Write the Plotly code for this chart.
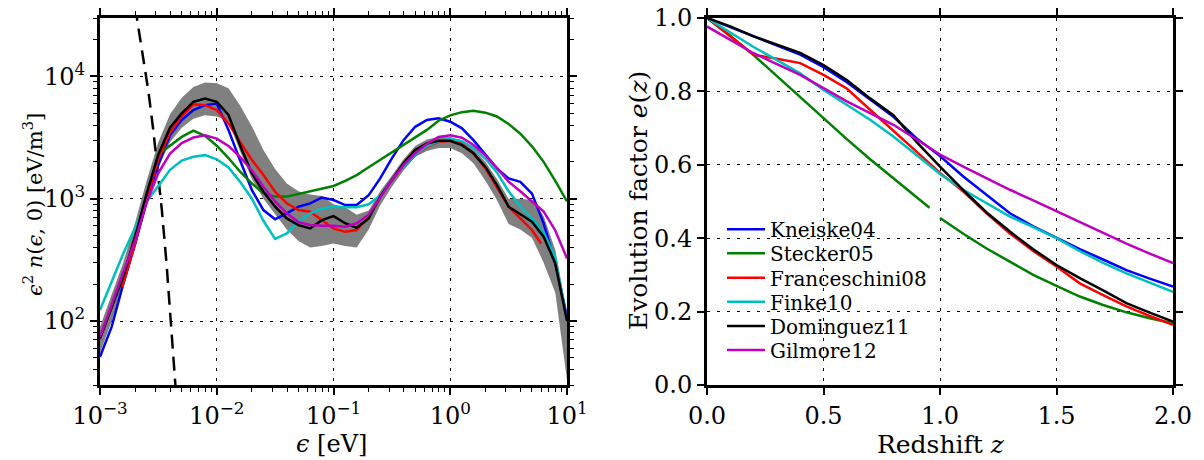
import plotly.graph_objects as go

# ---------------- Left panel: EBL spectral energy density ----------------
eps_grid = [0.001, 0.00126, 0.00158, 0.002, 0.00251, 0.00316, 0.00398, 0.00501, 0.00631, 0.00794,
            0.01, 0.0126, 0.0158, 0.02, 0.0251, 0.0316, 0.0398, 0.0501, 0.0631, 0.0794,
            0.1, 0.126, 0.158, 0.2, 0.251, 0.316, 0.398, 0.501, 0.631, 0.794,
            1.0, 1.26, 1.58, 2.0, 2.51, 3.16, 3.98, 5.01, 6.31, 7.94, 10.0]

sed_kneiske04 = [51, 90, 200, 430, 950, 1900, 3300, 4400, 5300, 5820, 6000, 3640, 2070, 1175, 807, 680,
                 760, 860, 916, 1020, 975, 887, 887, 1070, 1465, 2140, 3010, 3870, 4400, 4540, 4260,
                 3760, 3010, 2275, 1770, 1465, 1375, 1100, 628, 296, 108]
sed_stecker05 = [None, None, 230, 490, 1050, 2300, 2730, 3200, 3600, 3270, 2710, 2150, 1670, 1330, 1110,
                 1040, 1040, 1090, 1140, 1200, 1270, 1400, 1560, 1810, 2080, 2400, 2760, 3200, 3650, 4340,
                 4800, 5100, 5240, 5050, 4700, 4080, 3400, 2680, 2000, 1400, 950]
eps_franceschini08 = [0.00155, 0.002, 0.00251, 0.00316, 0.00398, 0.00501, 0.00631, 0.00794, 0.01, 0.0126,
                      0.0158, 0.02, 0.0251, 0.0316, 0.0398, 0.0501, 0.0631, 0.0794, 0.1, 0.126, 0.158,
                      0.2, 0.251, 0.316, 0.398, 0.501, 0.631, 0.794, 1.0, 1.26, 1.58, 2.0, 2.51, 3.16,
                      3.98, 5.01, 6.0]
sed_franceschini08 = [190, 430, 1000, 2100, 3500, 4700, 5900, 5820, 5300, 4130, 2920, 2070, 1560, 1140,
                      916, 807, 782, 668, 571, 536, 555, 711, 1040, 1420, 1820, 2275, 2660, 2920, 2970,
                      2800, 2350, 1770, 1250, 860, 690, 555, 430]
sed_finke10 = [123, 214, 355, 580, 950, 1270, 1720, 2050, 2200, 2270, 2100, 1800, 1380, 1000, 660, 470,
               520, 650, 760, 830, 860, 850, 850, 900, 1060, 1430, 1820, 2300, 2700, 2950, 3100, 2950,
               2600, 2120, 1640, 1150, 870, 690, 530, 330, 100]
sed_dominguez11 = [72, 128, 230, 490, 1100, 2300, 3800, 4980, 6200, 6600, 6200, 4830, 2750, 1610, 1140,
                   860, 690, 608, 571, 668, 720, 630, 578, 690, 1040, 1420, 1945, 2500, 2830, 2970, 2970,
                   2740, 2350, 1820, 1290, 860, 748, 648, 489, 296, 100]
sed_gilmore12 = [74, 138, 250, 457, 930, 1620, 2340, 2850, 3160, 3300, 3100, 2700, 2200, 1700, 1250, 950,
                 760, 645, 610, 600, 600, 590, 630, 740, 1020, 1420, 1880, 2350, 2800, 3200, 3300, 3150,
                 2750, 2260, 1780, 1380, 1150, 950, 785, 550, 325]
band_upper = [90, 165, 300, 640, 1400, 2900, 4900, 6700, 8200, 8900, 8800, 8000, 5800, 3900, 2500, 1750,
              1330, 1150, 1080, 1050, 900, 850, 740, 800, 1150, 1550, 2100, 2700, 3050, 3200, 3200, 2950,
              2550, 2000, 1450, 1000, 1000, 975, 720, 380, 115]
band_lower = [55, 100, 190, 400, 880, 1800, 2900, 3800, 4500, 4800, 4700, 4300, 2450, 1450, 1000, 740,
              560, 450, 400, 410, 430, 410, 400, 560, 880, 1250, 1700, 2200, 2450, 2600, 2600, 2350,
              1950, 1400, 975, 620, 560, 480, 300, 170, 33]

eps_cmb = [0.0020, 0.00235, 0.00260, 0.00286, 0.00316, 0.00339, 0.00372, 0.00404, 0.00440, 0.00460]
sed_cmb = [37000, 13500, 7500, 3640, 1570, 800, 290, 100, 31, 18]

# ---------------- Right panel: evolution factor ----------------
z_grid = [0.0, 0.1, 0.2, 0.3, 0.4, 0.5, 0.6, 0.7, 0.8, 0.9, 1.0,
          1.1, 1.2, 1.3, 1.4, 1.5, 1.6, 1.7, 1.8, 1.9, 2.0]
e_kneiske04 = [1.0, 0.975, 0.948, 0.925, 0.900, 0.866, 0.825, 0.778, 0.731, 0.672, 0.624,
               0.568, 0.518, 0.468, 0.432, 0.400, 0.370, 0.342, 0.313, 0.290, 0.268]
z_stecker05 = [0.0, 0.1, 0.2, 0.3, 0.4, 0.5, 0.6, 0.7, 0.8, 0.9, 0.955, 0.975,
               1.0, 1.1, 1.2, 1.3, 1.4, 1.5, 1.6, 1.7, 1.8, 1.9, 2.0]
e_stecker05 = [1.0, 0.952, 0.899, 0.842, 0.784, 0.726, 0.670, 0.615, 0.563, 0.511, 0.483, None,
               0.455, 0.412, 0.372, 0.335, 0.300, 0.270, 0.241, 0.218, 0.198, 0.182, 0.168]
e_franceschini08 = [1.0, 0.950, 0.900, 0.889, 0.877, 0.845, 0.808, 0.750, 0.692, 0.635, 0.578,
                    0.527, 0.468, 0.413, 0.365, 0.323, 0.277, 0.245, 0.214, 0.188, 0.164]
e_finke10 = [1.0, 0.960, 0.921, 0.885, 0.849, 0.804, 0.763, 0.723, 0.677, 0.625, 0.575,
             0.532, 0.495, 0.459, 0.430, 0.400, 0.365, 0.333, 0.304, 0.278, 0.254]
e_dominguez11 = [1.0, 0.977, 0.950, 0.928, 0.905, 0.872, 0.831, 0.781, 0.735, 0.662, 0.595,
                 0.531, 0.470, 0.418, 0.370, 0.327, 0.291, 0.258, 0.223, 0.197, 0.173]
e_gilmore12 = [0.977, 0.940, 0.904, 0.874, 0.845, 0.809, 0.773, 0.741, 0.709, 0.669, 0.628,
               0.595, 0.563, 0.532, 0.503, 0.473, 0.443, 0.413, 0.385, 0.358, 0.332]

model_names = ["Kneiske04", "Stecker05", "Franceschini08", "Finke10", "Dominguez11", "Gilmore12"]
model_colors = ["#0000ff", "#008000", "#ff0000", "#00bfbf", "#000000", "#bf00bf"]

x_tickvals = [0.001, 0.01, 0.1, 1, 10]
x_ticktext = ["10<sup>−3</sup>", "10<sup>−2</sup>", "10<sup>−1</sup>", "10<sup>0</sup>", "10<sup>1</sup>"]
y_tickvals = [100, 1000, 10000]
y_ticktext = ["10<sup>2</sup>", "10<sup>3</sup>", "10<sup>4</sup>"]
x_minor = [m * 10 ** k for k in (-3, -2, -1, 0) for m in range(2, 10)]
y_minor = [m * 10 ** k for k in (1, 2, 3, 4) for m in range(2, 10)]

FONT = "DejaVu Serif"
W, H = 1204, 460

fig = go.Figure()

fig.add_trace(go.Scatter(x=eps_grid, y=band_lower, mode="lines", line=dict(width=0, color="#808080"),
                         showlegend=False, hoverinfo="skip", xaxis="x", yaxis="y"))
fig.add_trace(go.Scatter(x=eps_grid, y=band_upper, mode="lines", line=dict(width=0, color="#808080"),
                         fill="tonexty", fillcolor="#808080", showlegend=False, hoverinfo="skip",
                         xaxis="x", yaxis="y"))
fig.add_trace(go.Scatter(x=eps_cmb, y=sed_cmb, mode="lines",
                         line=dict(color="black", width=2.5, dash="14px,8px"),
                         showlegend=False, xaxis="x", yaxis="y"))

left_x = [eps_grid, eps_grid, eps_franceschini08, eps_grid, eps_grid, eps_grid]
left_y = [sed_kneiske04, sed_stecker05, sed_franceschini08, sed_finke10, sed_dominguez11, sed_gilmore12]
for name, col, xs, ys in zip(model_names, model_colors, left_x, left_y):
    fig.add_trace(go.Scatter(x=xs, y=ys, mode="lines", name=name, line=dict(color=col, width=2.5),
                             showlegend=False, xaxis="x", yaxis="y"))

right_x = [z_grid, z_stecker05, z_grid, z_grid, z_grid, z_grid]
right_y = [e_kneiske04, e_stecker05, e_franceschini08, e_finke10, e_dominguez11, e_gilmore12]
legend_ids = ["legend", "legend2", "legend3", "legend4", "legend5", "legend6"]
for name, col, xs, ys, lid in zip(model_names, model_colors, right_x, right_y, legend_ids):
    fig.add_trace(go.Scatter(x=xs, y=ys, mode="lines", name=name, line=dict(color=col, width=2.5),
                             showlegend=True, legend=lid, xaxis="x2", yaxis="y2"))

tickfont = dict(family=FONT, size=24, color="black")
common = dict(showline=True, linecolor="black", linewidth=3, mirror="ticks", ticks="outside",
              ticklen=7, tickwidth=1.5, tickcolor="black", showgrid=True, gridcolor="black",
              gridwidth=1, griddash="3px,7px", zeroline=False, automargin=False, tickfont=tickfont)

y_dom = [1 - 385 / H, 1 - 18 / H]
layout = dict(
    width=W, height=H, margin=dict(l=0, r=0, t=0, b=0),
    paper_bgcolor="white", plot_bgcolor="white",
    font=dict(family=FONT, color="black"),
    xaxis=dict(type="log", range=[-3, 1], domain=[100 / W, 567 / W], anchor="y",
               tickmode="array", tickvals=x_tickvals, ticktext=x_ticktext,
               minor=dict(tickmode="array", tickvals=x_minor, ticks="outside", ticklen=4,
                          tickwidth=1, tickcolor="black", showgrid=False), **common),
    yaxis=dict(type="log", range=[1.4771, 4.4771], domain=y_dom, anchor="x",
               tickmode="array", tickvals=y_tickvals, ticktext=y_ticktext,
               minor=dict(tickmode="array", tickvals=y_minor, ticks="outside", ticklen=4,
                          tickwidth=1, tickcolor="black", showgrid=False), **common),
    xaxis2=dict(range=[0, 2], domain=[707 / W, 1173 / W], anchor="y2", tickmode="linear",
                tick0=0, dtick=0.5, tickformat=".1f", **common),
    yaxis2=dict(range=[0, 1], domain=y_dom, anchor="x2", tickmode="linear", tick0=0, dtick=0.2,
                tickformat=".1f", **common),
)

legend_rows = [229.3, 253.3, 277.7, 301.7, 326.0, 350.0]
for lid, yc in zip(legend_ids, legend_rows):
    layout[lid] = dict(x=722 / W, xanchor="left", y=1 - yc / H, yanchor="middle",
                       bgcolor="rgba(0,0,0,0)", borderwidth=0, itemwidth=38,
                       font=dict(family=FONT, size=20, color="black"))

titlefont = dict(family=FONT, size=25, color="black")
layout["annotations"] = [
    dict(text="<i>ϵ</i><sup>2</sup> <i>n</i>(<i>ϵ</i>, 0) [eV/m<sup>3</sup>]", x=33 / W, y=1 - 205 / H,
         xref="paper", yref="paper", textangle=-90, showarrow=False,
         font=dict(family=FONT, size=21, color="black"),
         xanchor="center", yanchor="middle"),
    dict(text="<i>ϵ</i> [eV]", x=332 / W, y=1 - 444 / H, xref="paper", yref="paper",
         showarrow=False, font=dict(family=FONT, size=24, color="black"),
         xanchor="center", yanchor="middle"),
    dict(text="Evolution factor <i>e</i>(<i>z</i>)", x=638 / W, y=1 - 201 / H, xref="paper",
         yref="paper", textangle=-90, showarrow=False, font=titlefont, xanchor="center",
         yanchor="middle"),
    dict(text="Redshift <i>z</i>", x=941 / W, y=1 - 444 / H, xref="paper", yref="paper",
         showarrow=False, font=titlefont, xanchor="center", yanchor="middle"),
]

fig.update_layout(**layout)
fig.write_html("out.html")
